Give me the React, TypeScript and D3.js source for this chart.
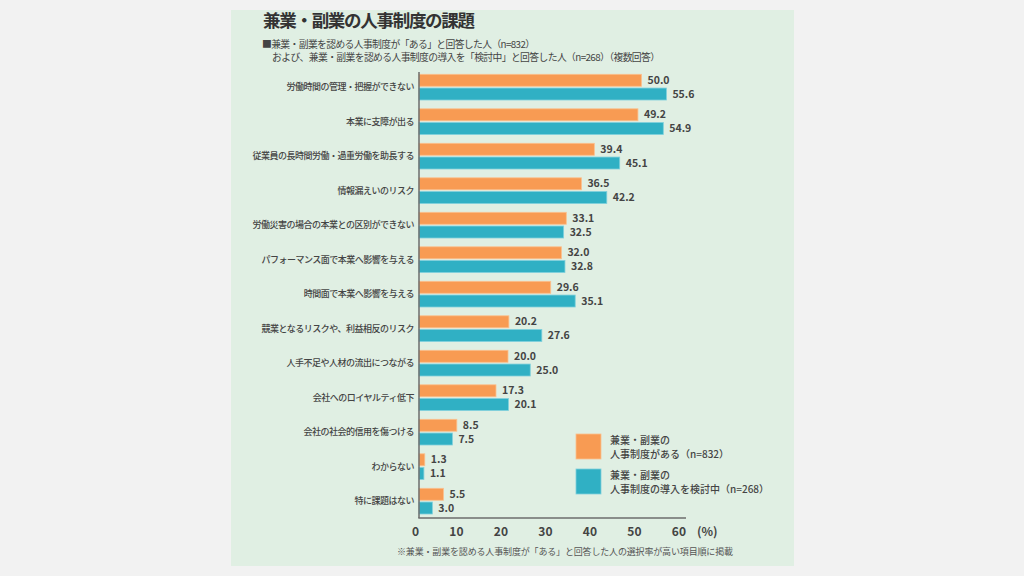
import React from "react";
import * as d3 from "d3";

const categories = [
  "労働時間の管理・把握ができない",
  "本業に支障が出る",
  "従業員の長時間労働・過重労働を助長する",
  "情報漏えいのリスク",
  "労働災害の場合の本業との区別ができない",
  "パフォーマンス面で本業へ影響を与える",
  "時間面で本業へ影響を与える",
  "競業となるリスクや、利益相反のリスク",
  "人手不足や人材の流出につながる",
  "会社へのロイヤルティ低下",
  "会社の社会的信用を傷つける",
  "わからない",
  "特に課題はない",
];
const seriesAru = [50.0, 49.2, 39.4, 36.5, 33.1, 32.0, 29.6, 20.2, 20.0, 17.3, 8.5, 1.3, 5.5];
const seriesKento = [55.6, 54.9, 45.1, 42.2, 32.5, 32.8, 35.1, 27.6, 25.0, 20.1, 7.5, 1.1, 3.0];
const tickValues = [0, 10, 20, 30, 40, 50, 60];
const seriesKeys = ["aru", "kento"];
const seriesColors = ["#f89b53", "#30b0c4"];
const seriesStroke = ["#fbc08e", "#7fd0dc"];
const legendLines = [
  ["兼業・副業の", "人事制度がある（n=832）"],
  ["兼業・副業の", "人事制度の導入を検討中（n=268）"],
];
const title = "兼業・副業の人事制度の課題";
const subtitle1 = "■兼業・副業を認める人事制度が「ある」と回答した人（n=832）";
const subtitle2 = "および、兼業・副業を認める人事制度の導入を「検討中」と回答した人（n=268）（複数回答）";
const footnote = "※兼業・副業を認める人事制度が「ある」と回答した人の選択率が高い項目順に掲載";

const FONT = "'Noto Sans CJK JP', 'Noto Sans', sans-serif";

export default function App() {
  const x = d3.scaleLinear().domain([0, 60]).range([419, 686]);
  const y = d3
    .scaleBand<string>()
    .domain(categories)
    .range([74.3, 514.0])
    .paddingInner(0.255)
    .paddingOuter(0);
  const ys = d3
    .scaleBand<string>()
    .domain(seriesKeys)
    .range([0, y.bandwidth()])
    .paddingInner(0.13);
  const data = [seriesAru, seriesKento];
  const axisY = 518;

  return (
    <svg
      width={1024}
      height={576}
      style={{ position: "absolute", left: 0, top: 0, background: "#f2f2f2" }}
      fontFamily={FONT}
    >
      <rect x={0} y={0} width={1024} height={576} fill="#f2f2f2" />
      <rect x={231} y={10} width={563} height={556} fill="#e0efe3" />

      <text x={263} y={27} fontSize={17.5} fontWeight={700} fill="#333" textLength={212} lengthAdjust="spacing">
        {title}
      </text>
      <text x={262} y={48} fontSize={9.8} fill="#444" textLength={273} lengthAdjust="spacing">
        {subtitle1}
      </text>
      <text x={272} y={61} fontSize={9.8} fill="#444" textLength={388} lengthAdjust="spacing">
        {subtitle2}
      </text>

      {categories.map((c, i) => {
        const y0 = y(c)!;
        return (
          <g key={c}>
            <text
              x={414}
              y={y0 + y.bandwidth() / 2}
              dy="0.35em"
              textAnchor="end"
              fontSize={9}
              letterSpacing={-0.5}
              fill="#444"
              fontWeight={500}
            >
              {c}
            </text>
            {seriesKeys.map((k, j) => {
              const v = data[j][i];
              const by = y0 + ys(k)!;
              return (
                <g key={k}>
                  <rect
                    x={x(0)}
                    y={by}
                    width={x(v) - x(0)}
                    height={ys.bandwidth()}
                    fill={seriesColors[j]}
                    stroke={seriesStroke[j]}
                    strokeWidth={0.8}
                  />
                  <text
                    x={x(v) + 6}
                    y={by + ys.bandwidth() / 2}
                    dy="0.35em"
                    fontSize={10.5}
                    fontWeight={600}
                    fill="#444"
                  >
                    {v.toFixed(1)}
                  </text>
                </g>
              );
            })}
          </g>
        );
      })}

      <line x1={419} x2={419} y1={72} y2={axisY} stroke="#6d6d6d" strokeWidth={1.5} />
      <line x1={418.3} x2={x(60)} y1={axisY} y2={axisY} stroke="#6d6d6d" strokeWidth={1.5} />
      {tickValues.map((t) => (
        <text
          key={t}
          x={x(t)}
          y={532}
          dy="0.35em"
          textAnchor="end"
          fontSize={12}
          fontWeight={600}
          fill="#444"
        >
          {t}
        </text>
      ))}
      <text x={697} y={532} dy="0.35em" fontSize={12} fontWeight={600} fill="#444">
        (%)
      </text>

      {legendLines.map((lines, j) => {
        const ly = 434 + j * 35;
        return (
          <g key={j}>
            <rect x={576} y={ly} width={25} height={25} fill={seriesColors[j]} stroke={seriesStroke[j]} strokeWidth={0.8} />
            <text x={610} y={ly + 6} dy="0.35em" fontSize={10} fontWeight={500} fill="#444">
              {lines[0]}
            </text>
            <text x={610} y={ly + 20} dy="0.35em" fontSize={10} fontWeight={500} fill="#444">
              {lines[1]}
            </text>
          </g>
        );
      })}

      <text x={397} y={552} dy="0.35em" fontSize={9} fill="#555" textLength={336} lengthAdjust="spacing">
        {footnote}
      </text>
    </svg>
  );
}
